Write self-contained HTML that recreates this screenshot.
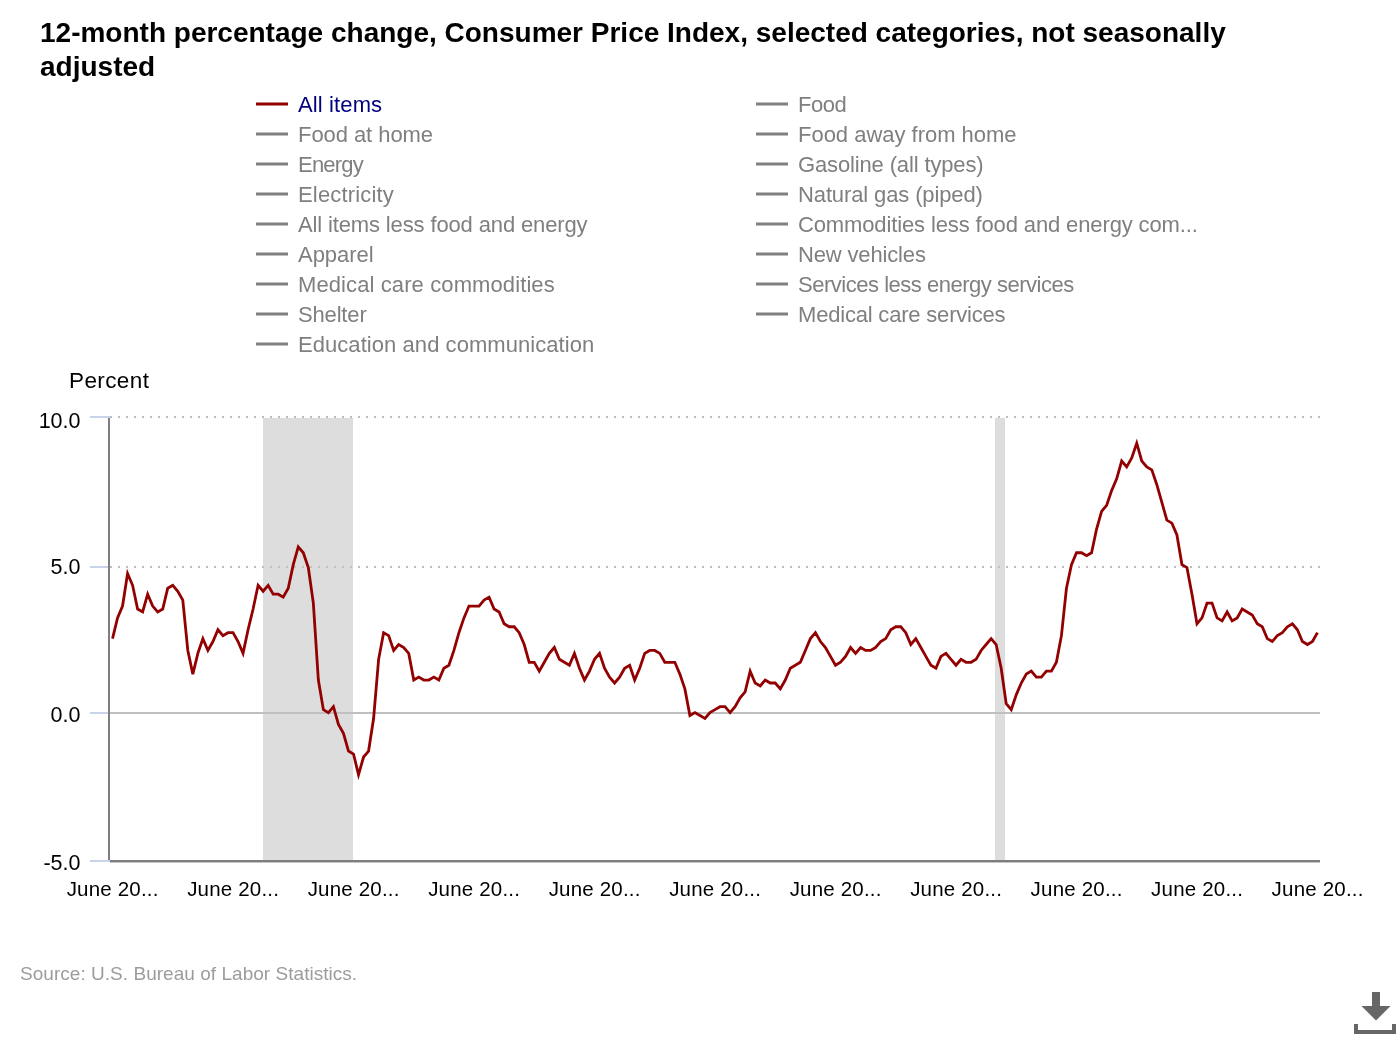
<!DOCTYPE html>
<html><head><meta charset="utf-8"><style>
html,body{margin:0;padding:0;background:#fff;width:1400px;height:1040px;overflow:hidden}
svg{display:block;will-change:transform}
text{font-family:"Liberation Sans",sans-serif}
</style></head><body>
<svg width="1400" height="1040" viewBox="0 0 1400 1040">
<g font-weight="bold" font-size="28" fill="#000">
<text x="40" y="42">12-month percentage change, Consumer Price Index, selected categories, not seasonally</text>
<text x="40" y="75.5">adjusted</text>
</g>
<g font-size="22"><rect x="256" y="102.5" width="32" height="3" fill="#920000"/><text x="298" y="112" fill="#000080" textLength="84.12" lengthAdjust="spacing">All items</text><rect x="256" y="132.5" width="32" height="3" fill="#808080"/><text x="298" y="142" fill="#7f7f7f" textLength="135.05" lengthAdjust="spacing">Food at home</text><rect x="256" y="162.5" width="32" height="3" fill="#808080"/><text x="298" y="172" fill="#7f7f7f" textLength="65.72" lengthAdjust="spacing">Energy</text><rect x="256" y="192.5" width="32" height="3" fill="#808080"/><text x="298" y="202" fill="#7f7f7f" textLength="95.73" lengthAdjust="spacing">Electricity</text><rect x="256" y="222.5" width="32" height="3" fill="#808080"/><text x="298" y="232" fill="#7f7f7f" textLength="289.60" lengthAdjust="spacing">All items less food and energy</text><rect x="256" y="252.5" width="32" height="3" fill="#808080"/><text x="298" y="262" fill="#7f7f7f" textLength="75.54" lengthAdjust="spacing">Apparel</text><rect x="256" y="282.5" width="32" height="3" fill="#808080"/><text x="298" y="292" fill="#7f7f7f" textLength="256.71" lengthAdjust="spacing">Medical care commodities</text><rect x="256" y="312.5" width="32" height="3" fill="#808080"/><text x="298" y="322" fill="#7f7f7f" textLength="68.72" lengthAdjust="spacing">Shelter</text><rect x="256" y="342.5" width="32" height="3" fill="#808080"/><text x="298" y="352" fill="#7f7f7f" textLength="296.23" lengthAdjust="spacing">Education and communication</text><rect x="756" y="102.5" width="32" height="3" fill="#808080"/><text x="798" y="112" fill="#7f7f7f" textLength="48.86" lengthAdjust="spacing">Food</text><rect x="756" y="132.5" width="32" height="3" fill="#808080"/><text x="798" y="142" fill="#7f7f7f" textLength="218.57" lengthAdjust="spacing">Food away from home</text><rect x="756" y="162.5" width="32" height="3" fill="#808080"/><text x="798" y="172" fill="#7f7f7f" textLength="185.61" lengthAdjust="spacing">Gasoline (all types)</text><rect x="756" y="192.5" width="32" height="3" fill="#808080"/><text x="798" y="202" fill="#7f7f7f" textLength="184.91" lengthAdjust="spacing">Natural gas (piped)</text><rect x="756" y="222.5" width="32" height="3" fill="#808080"/><text x="798" y="232" fill="#7f7f7f" textLength="399.85" lengthAdjust="spacing">Commodities less food and energy com...</text><rect x="756" y="252.5" width="32" height="3" fill="#808080"/><text x="798" y="262" fill="#7f7f7f" textLength="127.91" lengthAdjust="spacing">New vehicles</text><rect x="756" y="282.5" width="32" height="3" fill="#808080"/><text x="798" y="292" fill="#7f7f7f" textLength="276.28" lengthAdjust="spacing">Services less energy services</text><rect x="756" y="312.5" width="32" height="3" fill="#808080"/><text x="798" y="322" fill="#7f7f7f" textLength="207.62" lengthAdjust="spacing">Medical care services</text></g>
<text x="69" y="388" font-size="22.5" fill="#000" textLength="79.95" lengthAdjust="spacing">Percent</text>
<g fill="#bcbcbc" shape-rendering="crispEdges"><rect x="110" y="416" width="2" height="2"/><rect x="118" y="416" width="2" height="2"/><rect x="126" y="416" width="2" height="2"/><rect x="134" y="416" width="2" height="2"/><rect x="142" y="416" width="2" height="2"/><rect x="150" y="416" width="2" height="2"/><rect x="158" y="416" width="2" height="2"/><rect x="166" y="416" width="2" height="2"/><rect x="174" y="416" width="2" height="2"/><rect x="182" y="416" width="2" height="2"/><rect x="190" y="416" width="2" height="2"/><rect x="198" y="416" width="2" height="2"/><rect x="206" y="416" width="2" height="2"/><rect x="214" y="416" width="2" height="2"/><rect x="222" y="416" width="2" height="2"/><rect x="230" y="416" width="2" height="2"/><rect x="238" y="416" width="2" height="2"/><rect x="246" y="416" width="2" height="2"/><rect x="254" y="416" width="2" height="2"/><rect x="262" y="416" width="2" height="2"/><rect x="270" y="416" width="2" height="2"/><rect x="278" y="416" width="2" height="2"/><rect x="286" y="416" width="2" height="2"/><rect x="294" y="416" width="2" height="2"/><rect x="302" y="416" width="2" height="2"/><rect x="310" y="416" width="2" height="2"/><rect x="318" y="416" width="2" height="2"/><rect x="326" y="416" width="2" height="2"/><rect x="334" y="416" width="2" height="2"/><rect x="342" y="416" width="2" height="2"/><rect x="350" y="416" width="2" height="2"/><rect x="358" y="416" width="2" height="2"/><rect x="366" y="416" width="2" height="2"/><rect x="374" y="416" width="2" height="2"/><rect x="382" y="416" width="2" height="2"/><rect x="390" y="416" width="2" height="2"/><rect x="398" y="416" width="2" height="2"/><rect x="406" y="416" width="2" height="2"/><rect x="414" y="416" width="2" height="2"/><rect x="422" y="416" width="2" height="2"/><rect x="430" y="416" width="2" height="2"/><rect x="438" y="416" width="2" height="2"/><rect x="446" y="416" width="2" height="2"/><rect x="454" y="416" width="2" height="2"/><rect x="462" y="416" width="2" height="2"/><rect x="470" y="416" width="2" height="2"/><rect x="478" y="416" width="2" height="2"/><rect x="486" y="416" width="2" height="2"/><rect x="494" y="416" width="2" height="2"/><rect x="502" y="416" width="2" height="2"/><rect x="510" y="416" width="2" height="2"/><rect x="518" y="416" width="2" height="2"/><rect x="526" y="416" width="2" height="2"/><rect x="534" y="416" width="2" height="2"/><rect x="542" y="416" width="2" height="2"/><rect x="550" y="416" width="2" height="2"/><rect x="558" y="416" width="2" height="2"/><rect x="566" y="416" width="2" height="2"/><rect x="574" y="416" width="2" height="2"/><rect x="582" y="416" width="2" height="2"/><rect x="590" y="416" width="2" height="2"/><rect x="598" y="416" width="2" height="2"/><rect x="606" y="416" width="2" height="2"/><rect x="614" y="416" width="2" height="2"/><rect x="622" y="416" width="2" height="2"/><rect x="630" y="416" width="2" height="2"/><rect x="638" y="416" width="2" height="2"/><rect x="646" y="416" width="2" height="2"/><rect x="654" y="416" width="2" height="2"/><rect x="662" y="416" width="2" height="2"/><rect x="670" y="416" width="2" height="2"/><rect x="678" y="416" width="2" height="2"/><rect x="686" y="416" width="2" height="2"/><rect x="694" y="416" width="2" height="2"/><rect x="702" y="416" width="2" height="2"/><rect x="710" y="416" width="2" height="2"/><rect x="718" y="416" width="2" height="2"/><rect x="726" y="416" width="2" height="2"/><rect x="734" y="416" width="2" height="2"/><rect x="742" y="416" width="2" height="2"/><rect x="750" y="416" width="2" height="2"/><rect x="758" y="416" width="2" height="2"/><rect x="766" y="416" width="2" height="2"/><rect x="774" y="416" width="2" height="2"/><rect x="782" y="416" width="2" height="2"/><rect x="790" y="416" width="2" height="2"/><rect x="798" y="416" width="2" height="2"/><rect x="806" y="416" width="2" height="2"/><rect x="814" y="416" width="2" height="2"/><rect x="822" y="416" width="2" height="2"/><rect x="830" y="416" width="2" height="2"/><rect x="838" y="416" width="2" height="2"/><rect x="846" y="416" width="2" height="2"/><rect x="854" y="416" width="2" height="2"/><rect x="862" y="416" width="2" height="2"/><rect x="870" y="416" width="2" height="2"/><rect x="878" y="416" width="2" height="2"/><rect x="886" y="416" width="2" height="2"/><rect x="894" y="416" width="2" height="2"/><rect x="902" y="416" width="2" height="2"/><rect x="910" y="416" width="2" height="2"/><rect x="918" y="416" width="2" height="2"/><rect x="926" y="416" width="2" height="2"/><rect x="934" y="416" width="2" height="2"/><rect x="942" y="416" width="2" height="2"/><rect x="950" y="416" width="2" height="2"/><rect x="958" y="416" width="2" height="2"/><rect x="966" y="416" width="2" height="2"/><rect x="974" y="416" width="2" height="2"/><rect x="982" y="416" width="2" height="2"/><rect x="990" y="416" width="2" height="2"/><rect x="998" y="416" width="2" height="2"/><rect x="1006" y="416" width="2" height="2"/><rect x="1014" y="416" width="2" height="2"/><rect x="1022" y="416" width="2" height="2"/><rect x="1030" y="416" width="2" height="2"/><rect x="1038" y="416" width="2" height="2"/><rect x="1046" y="416" width="2" height="2"/><rect x="1054" y="416" width="2" height="2"/><rect x="1062" y="416" width="2" height="2"/><rect x="1070" y="416" width="2" height="2"/><rect x="1078" y="416" width="2" height="2"/><rect x="1086" y="416" width="2" height="2"/><rect x="1094" y="416" width="2" height="2"/><rect x="1102" y="416" width="2" height="2"/><rect x="1110" y="416" width="2" height="2"/><rect x="1118" y="416" width="2" height="2"/><rect x="1126" y="416" width="2" height="2"/><rect x="1134" y="416" width="2" height="2"/><rect x="1142" y="416" width="2" height="2"/><rect x="1150" y="416" width="2" height="2"/><rect x="1158" y="416" width="2" height="2"/><rect x="1166" y="416" width="2" height="2"/><rect x="1174" y="416" width="2" height="2"/><rect x="1182" y="416" width="2" height="2"/><rect x="1190" y="416" width="2" height="2"/><rect x="1198" y="416" width="2" height="2"/><rect x="1206" y="416" width="2" height="2"/><rect x="1214" y="416" width="2" height="2"/><rect x="1222" y="416" width="2" height="2"/><rect x="1230" y="416" width="2" height="2"/><rect x="1238" y="416" width="2" height="2"/><rect x="1246" y="416" width="2" height="2"/><rect x="1254" y="416" width="2" height="2"/><rect x="1262" y="416" width="2" height="2"/><rect x="1270" y="416" width="2" height="2"/><rect x="1278" y="416" width="2" height="2"/><rect x="1286" y="416" width="2" height="2"/><rect x="1294" y="416" width="2" height="2"/><rect x="1302" y="416" width="2" height="2"/><rect x="1310" y="416" width="2" height="2"/><rect x="1318" y="416" width="2" height="2"/><rect x="110" y="566" width="2" height="2"/><rect x="118" y="566" width="2" height="2"/><rect x="126" y="566" width="2" height="2"/><rect x="134" y="566" width="2" height="2"/><rect x="142" y="566" width="2" height="2"/><rect x="150" y="566" width="2" height="2"/><rect x="158" y="566" width="2" height="2"/><rect x="166" y="566" width="2" height="2"/><rect x="174" y="566" width="2" height="2"/><rect x="182" y="566" width="2" height="2"/><rect x="190" y="566" width="2" height="2"/><rect x="198" y="566" width="2" height="2"/><rect x="206" y="566" width="2" height="2"/><rect x="214" y="566" width="2" height="2"/><rect x="222" y="566" width="2" height="2"/><rect x="230" y="566" width="2" height="2"/><rect x="238" y="566" width="2" height="2"/><rect x="246" y="566" width="2" height="2"/><rect x="254" y="566" width="2" height="2"/><rect x="262" y="566" width="2" height="2"/><rect x="270" y="566" width="2" height="2"/><rect x="278" y="566" width="2" height="2"/><rect x="286" y="566" width="2" height="2"/><rect x="294" y="566" width="2" height="2"/><rect x="302" y="566" width="2" height="2"/><rect x="310" y="566" width="2" height="2"/><rect x="318" y="566" width="2" height="2"/><rect x="326" y="566" width="2" height="2"/><rect x="334" y="566" width="2" height="2"/><rect x="342" y="566" width="2" height="2"/><rect x="350" y="566" width="2" height="2"/><rect x="358" y="566" width="2" height="2"/><rect x="366" y="566" width="2" height="2"/><rect x="374" y="566" width="2" height="2"/><rect x="382" y="566" width="2" height="2"/><rect x="390" y="566" width="2" height="2"/><rect x="398" y="566" width="2" height="2"/><rect x="406" y="566" width="2" height="2"/><rect x="414" y="566" width="2" height="2"/><rect x="422" y="566" width="2" height="2"/><rect x="430" y="566" width="2" height="2"/><rect x="438" y="566" width="2" height="2"/><rect x="446" y="566" width="2" height="2"/><rect x="454" y="566" width="2" height="2"/><rect x="462" y="566" width="2" height="2"/><rect x="470" y="566" width="2" height="2"/><rect x="478" y="566" width="2" height="2"/><rect x="486" y="566" width="2" height="2"/><rect x="494" y="566" width="2" height="2"/><rect x="502" y="566" width="2" height="2"/><rect x="510" y="566" width="2" height="2"/><rect x="518" y="566" width="2" height="2"/><rect x="526" y="566" width="2" height="2"/><rect x="534" y="566" width="2" height="2"/><rect x="542" y="566" width="2" height="2"/><rect x="550" y="566" width="2" height="2"/><rect x="558" y="566" width="2" height="2"/><rect x="566" y="566" width="2" height="2"/><rect x="574" y="566" width="2" height="2"/><rect x="582" y="566" width="2" height="2"/><rect x="590" y="566" width="2" height="2"/><rect x="598" y="566" width="2" height="2"/><rect x="606" y="566" width="2" height="2"/><rect x="614" y="566" width="2" height="2"/><rect x="622" y="566" width="2" height="2"/><rect x="630" y="566" width="2" height="2"/><rect x="638" y="566" width="2" height="2"/><rect x="646" y="566" width="2" height="2"/><rect x="654" y="566" width="2" height="2"/><rect x="662" y="566" width="2" height="2"/><rect x="670" y="566" width="2" height="2"/><rect x="678" y="566" width="2" height="2"/><rect x="686" y="566" width="2" height="2"/><rect x="694" y="566" width="2" height="2"/><rect x="702" y="566" width="2" height="2"/><rect x="710" y="566" width="2" height="2"/><rect x="718" y="566" width="2" height="2"/><rect x="726" y="566" width="2" height="2"/><rect x="734" y="566" width="2" height="2"/><rect x="742" y="566" width="2" height="2"/><rect x="750" y="566" width="2" height="2"/><rect x="758" y="566" width="2" height="2"/><rect x="766" y="566" width="2" height="2"/><rect x="774" y="566" width="2" height="2"/><rect x="782" y="566" width="2" height="2"/><rect x="790" y="566" width="2" height="2"/><rect x="798" y="566" width="2" height="2"/><rect x="806" y="566" width="2" height="2"/><rect x="814" y="566" width="2" height="2"/><rect x="822" y="566" width="2" height="2"/><rect x="830" y="566" width="2" height="2"/><rect x="838" y="566" width="2" height="2"/><rect x="846" y="566" width="2" height="2"/><rect x="854" y="566" width="2" height="2"/><rect x="862" y="566" width="2" height="2"/><rect x="870" y="566" width="2" height="2"/><rect x="878" y="566" width="2" height="2"/><rect x="886" y="566" width="2" height="2"/><rect x="894" y="566" width="2" height="2"/><rect x="902" y="566" width="2" height="2"/><rect x="910" y="566" width="2" height="2"/><rect x="918" y="566" width="2" height="2"/><rect x="926" y="566" width="2" height="2"/><rect x="934" y="566" width="2" height="2"/><rect x="942" y="566" width="2" height="2"/><rect x="950" y="566" width="2" height="2"/><rect x="958" y="566" width="2" height="2"/><rect x="966" y="566" width="2" height="2"/><rect x="974" y="566" width="2" height="2"/><rect x="982" y="566" width="2" height="2"/><rect x="990" y="566" width="2" height="2"/><rect x="998" y="566" width="2" height="2"/><rect x="1006" y="566" width="2" height="2"/><rect x="1014" y="566" width="2" height="2"/><rect x="1022" y="566" width="2" height="2"/><rect x="1030" y="566" width="2" height="2"/><rect x="1038" y="566" width="2" height="2"/><rect x="1046" y="566" width="2" height="2"/><rect x="1054" y="566" width="2" height="2"/><rect x="1062" y="566" width="2" height="2"/><rect x="1070" y="566" width="2" height="2"/><rect x="1078" y="566" width="2" height="2"/><rect x="1086" y="566" width="2" height="2"/><rect x="1094" y="566" width="2" height="2"/><rect x="1102" y="566" width="2" height="2"/><rect x="1110" y="566" width="2" height="2"/><rect x="1118" y="566" width="2" height="2"/><rect x="1126" y="566" width="2" height="2"/><rect x="1134" y="566" width="2" height="2"/><rect x="1142" y="566" width="2" height="2"/><rect x="1150" y="566" width="2" height="2"/><rect x="1158" y="566" width="2" height="2"/><rect x="1166" y="566" width="2" height="2"/><rect x="1174" y="566" width="2" height="2"/><rect x="1182" y="566" width="2" height="2"/><rect x="1190" y="566" width="2" height="2"/><rect x="1198" y="566" width="2" height="2"/><rect x="1206" y="566" width="2" height="2"/><rect x="1214" y="566" width="2" height="2"/><rect x="1222" y="566" width="2" height="2"/><rect x="1230" y="566" width="2" height="2"/><rect x="1238" y="566" width="2" height="2"/><rect x="1246" y="566" width="2" height="2"/><rect x="1254" y="566" width="2" height="2"/><rect x="1262" y="566" width="2" height="2"/><rect x="1270" y="566" width="2" height="2"/><rect x="1278" y="566" width="2" height="2"/><rect x="1286" y="566" width="2" height="2"/><rect x="1294" y="566" width="2" height="2"/><rect x="1302" y="566" width="2" height="2"/><rect x="1310" y="566" width="2" height="2"/><rect x="1318" y="566" width="2" height="2"/></g>
<g fill="rgb(198,198,198)" fill-opacity="0.6" shape-rendering="crispEdges">
<rect x="263" y="418" width="90" height="442"/>
<rect x="995" y="418" width="10" height="442"/>
</g>
<g shape-rendering="crispEdges">
<rect x="110" y="712" width="1210" height="2" fill="#c0c0c0"/>
<rect x="90" y="416" width="20" height="2" fill="#c8d2ea"/>
<rect x="90" y="566" width="20" height="2" fill="#c8d2ea"/>
<rect x="90" y="712" width="18" height="2" fill="#c8d2ea"/>
<rect x="90" y="860" width="20" height="2" fill="#c8d2ea"/>
<rect x="108" y="418" width="2" height="442" fill="#7e7e7e"/>
<rect x="110" y="860" width="1210" height="2" fill="#7e7e7e"/>
<rect x="110" y="862" width="1210" height="1" fill="#c4c4c4"/>
</g>
<polyline points="112.51,638.60 117.53,617.88 122.55,606.04 127.57,573.48 132.59,585.32 137.61,609.00 142.63,611.96 147.66,594.20 152.68,606.04 157.70,611.96 162.72,609.00 167.74,588.28 172.76,585.32 177.78,591.24 182.80,600.12 187.82,650.44 192.84,674.12 197.86,653.40 202.88,638.60 207.90,650.44 212.93,641.56 217.95,629.72 222.97,635.64 227.99,632.68 233.01,632.68 238.03,641.56 243.05,653.40 248.07,629.72 253.09,609.00 258.11,585.32 263.13,591.24 268.15,585.32 273.17,594.20 278.20,594.20 283.22,597.16 288.24,588.28 293.26,564.60 298.28,546.84 303.30,552.76 308.32,567.56 313.34,603.08 318.36,680.04 323.38,709.64 328.40,712.60 333.42,706.68 338.44,724.44 343.46,733.32 348.49,751.08 353.51,754.04 358.53,774.76 363.55,757.00 368.57,751.08 373.59,718.52 378.61,659.32 383.63,632.68 388.65,635.64 393.67,650.44 398.69,644.52 403.71,647.48 408.73,653.40 413.76,680.04 418.78,677.08 423.80,680.04 428.82,680.04 433.84,677.08 438.86,680.04 443.88,668.20 448.90,665.24 453.92,650.44 458.94,632.68 463.96,617.88 468.98,606.04 474.00,606.04 479.02,606.04 484.05,600.12 489.07,597.16 494.09,609.00 499.11,611.96 504.13,623.80 509.15,626.76 514.17,626.76 519.19,632.68 524.21,644.52 529.23,662.28 534.25,662.28 539.27,671.16 544.29,662.28 549.32,653.40 554.34,647.48 559.36,659.32 564.38,662.28 569.40,665.24 574.42,653.40 579.44,668.20 584.46,680.04 589.48,671.16 594.50,659.32 599.52,653.40 604.54,668.20 609.56,677.08 614.59,683.00 619.61,677.08 624.63,668.20 629.65,665.24 634.67,680.04 639.69,668.20 644.71,653.40 649.73,650.44 654.75,650.44 659.77,653.40 664.79,662.28 669.81,662.28 674.83,662.28 679.85,674.12 684.88,688.92 689.90,715.56 694.92,712.60 699.94,715.56 704.96,718.52 709.98,712.60 715.00,709.64 720.02,706.68 725.04,706.68 730.06,712.60 735.08,706.68 740.10,697.80 745.12,691.88 750.15,671.16 755.17,683.00 760.19,685.96 765.21,680.04 770.23,683.00 775.25,683.00 780.27,688.92 785.29,680.04 790.31,668.20 795.33,665.24 800.35,662.28 805.37,650.44 810.39,638.60 815.41,632.68 820.44,641.56 825.46,647.48 830.48,656.36 835.50,665.24 840.52,662.28 845.54,656.36 850.56,647.48 855.58,653.40 860.60,647.48 865.62,650.44 870.64,650.44 875.66,647.48 880.68,641.56 885.71,638.60 890.73,629.72 895.75,626.76 900.77,626.76 905.79,632.68 910.81,644.52 915.83,638.60 920.85,647.48 925.87,656.36 930.89,665.24 935.91,668.20 940.93,656.36 945.95,653.40 950.98,659.32 956.00,665.24 961.02,659.32 966.04,662.28 971.06,662.28 976.08,659.32 981.10,650.44 986.12,644.52 991.14,638.60 996.16,644.52 1001.18,668.20 1006.20,703.72 1011.22,709.64 1016.24,694.84 1021.27,683.00 1026.29,674.12 1031.31,671.16 1036.33,677.08 1041.35,677.08 1046.37,671.16 1051.39,671.16 1056.41,662.28 1061.43,635.64 1066.45,588.28 1071.47,564.60 1076.49,552.76 1081.51,552.76 1086.54,555.72 1091.56,552.76 1096.58,529.08 1101.60,511.32 1106.62,505.40 1111.64,490.60 1116.66,478.76 1121.68,461.00 1126.70,466.92 1131.72,458.04 1136.74,443.24 1141.76,461.00 1146.78,466.92 1151.80,469.88 1156.83,484.68 1161.85,502.44 1166.87,520.20 1171.89,523.16 1176.91,535.00 1181.93,564.60 1186.95,567.56 1191.97,594.20 1196.99,623.80 1202.01,617.88 1207.03,603.08 1212.05,603.08 1217.07,617.88 1222.10,620.84 1227.12,611.96 1232.14,620.84 1237.16,617.88 1242.18,609.00 1247.20,611.96 1252.22,614.92 1257.24,623.80 1262.26,626.76 1267.28,638.60 1272.30,641.56 1277.32,635.64 1282.34,632.68 1287.37,626.76 1292.39,623.80 1297.41,629.72 1302.43,641.56 1307.45,644.52 1312.47,641.56 1317.49,632.68" fill="none" stroke="#920000" stroke-width="2.8" stroke-linejoin="miter" stroke-miterlimit="4"/>
<g font-size="21.5" fill="#000" text-anchor="end">
<text x="80.5" y="428.2">10.0</text>
<text x="80.5" y="574">5.0</text>
<text x="80.5" y="722">0.0</text>
<text x="80.5" y="870">-5.0</text>
</g>
<g font-size="20.5" fill="#000"><text x="112.51" y="895.5" text-anchor="middle" textLength="91.75" lengthAdjust="spacing">June 20...</text><text x="233.01" y="895.5" text-anchor="middle" textLength="91.75" lengthAdjust="spacing">June 20...</text><text x="353.51" y="895.5" text-anchor="middle" textLength="91.75" lengthAdjust="spacing">June 20...</text><text x="474.00" y="895.5" text-anchor="middle" textLength="91.75" lengthAdjust="spacing">June 20...</text><text x="594.50" y="895.5" text-anchor="middle" textLength="91.75" lengthAdjust="spacing">June 20...</text><text x="715.00" y="895.5" text-anchor="middle" textLength="91.75" lengthAdjust="spacing">June 20...</text><text x="835.50" y="895.5" text-anchor="middle" textLength="91.75" lengthAdjust="spacing">June 20...</text><text x="956.00" y="895.5" text-anchor="middle" textLength="91.75" lengthAdjust="spacing">June 20...</text><text x="1076.49" y="895.5" text-anchor="middle" textLength="91.75" lengthAdjust="spacing">June 20...</text><text x="1196.99" y="895.5" text-anchor="middle" textLength="91.75" lengthAdjust="spacing">June 20...</text><text x="1317.49" y="895.5" text-anchor="middle" textLength="91.75" lengthAdjust="spacing">June 20...</text></g>
<text x="20" y="980" font-size="19" fill="#9c9c9c" textLength="337.14" lengthAdjust="spacing">Source: U.S. Bureau of Labor Statistics.</text>
<g fill="#666">
<rect x="1372" y="992" width="8" height="15"/>
<polygon points="1361.5,1006 1390.5,1006 1376,1020.5"/>
<path d="M1354 1024h4v6h34v-6h4v10h-42z"/>
</g>
</svg>
</body></html>
